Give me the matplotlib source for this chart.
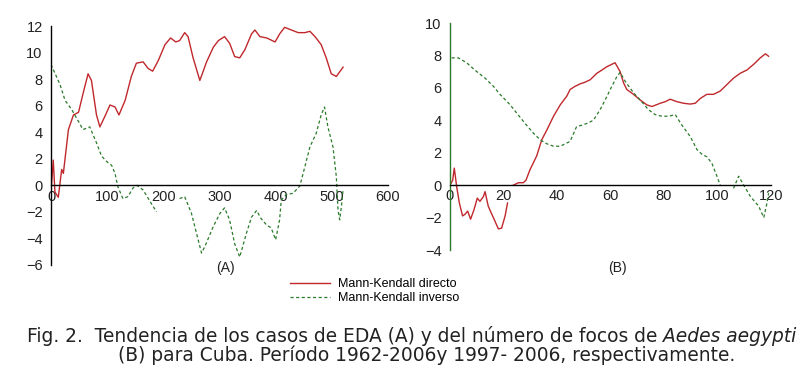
import matplotlib

matplotlib.use("Agg")
import matplotlib.pyplot as plt
import numpy as np

nan = np.nan

# ---- panel A: EDA cases (Mann-Kendall sequential statistic) ----
a_dir_x = [0, 4, 7, 13, 19, 22, 31, 40, 49, 57, 66, 72, 81, 87, 96, 105, 114, 121,
           132, 143, 152, 164, 173, 181, 191, 203, 213, 222, 229, 238, 244, 253, 265,
           277, 289, 298, 309, 318, 327, 336, 345, 357, 363, 372, 384, 399, 407, 416,
           428, 440, 452, 461, 470, 481, 490, 499, 508, 520]
a_dir_y = [-0.5, 1.9, -0.5, -0.9, 1.2, 0.9, 4.2, 5.3, 5.5, 6.9, 8.4, 7.9, 5.3, 4.4,
           5.2, 6.05, 5.9, 5.3, 6.4, 8.2, 9.2, 9.3, 8.8, 8.6, 9.4, 10.6, 11.1, 10.8,
           10.9, 11.5, 11.2, 9.6, 7.9, 9.3, 10.4, 10.9, 11.2, 10.7, 9.7, 9.6, 10.2,
           11.4, 11.7, 11.2, 11.1, 10.8, 11.4, 11.9, 11.7, 11.5, 11.5, 11.6, 11.2,
           10.6, 9.6, 8.4, 8.2, 8.9]

a_inv_x = [0, 16, 25, 37, 49, 57, 69, 81, 90, 99, 108, 114, 119, 128, 137, 146, 153,
           164, 182, 188, 208, 229, 238, 250, 259, 268, 274, 289, 301, 309, 318, 327,
           336, 348, 357, 366, 374, 384, 392, 400, 407, 410, 419, 431, 443, 452, 461,
           472, 481, 487, 493, 502, 508, 511, 514, 517, 520]
a_inv_y = [9.1, 7.6, 6.4, 5.7, 4.8, 4.2, 4.4, 3.2, 2.2, 1.8, 1.5, 0.9, -0.1, -1.0,
           -0.85, -0.2, 0.0, -0.35, -1.6, -2.0, nan, -1.0, -0.85, -2.1, -3.6, -5.1,
           -4.6, -3.1, -2.1, -1.7, -2.6, -4.4, -5.4, -3.6, -2.4, -1.9, -2.5, -3.0,
           -3.2, -4.1, -2.6, -1.1, -0.7, -0.6, -0.05, 1.4, 2.9, 3.9, 5.3, 5.9, 4.4,
           2.9, 0.65, -1.85, -2.6, -1.6, -0.35]

# ---- panel B: Aedes aegypti foci ----
b_dir_x = [0, 1, 1.6, 2.5, 3.5, 4.7, 5.6, 6.6, 7.7, 9.0, 10.2, 11.2, 12.5, 13.1, 14.3,
           16.2, 18.1, 19.3, 20.6, 21.5, 22.6, 23.7, 25.6, 27.4, 28.4, 29.9, 32.4,
           34.3, 36.2, 38.7, 41.2, 43.7, 44.9, 46.8, 48.7, 50.5, 52.4, 54.9, 56.8,
           58.6, 61.7, 63.6, 64.9, 66.1, 68.6, 71.1, 73.6, 75.5, 78.6, 80.5, 82.3,
           84.8, 87.3, 89.8, 91.7, 93.6, 96.0, 98.5, 101, 103.5, 106, 108.5, 111,
           113.5, 116, 117.9, 119.1]
b_dir_y = [0, 0.3, 1.05, -0.1, -1.1, -1.9, -1.8, -1.6, -2.1, -1.5, -0.8, -1.0, -0.7,
           -0.4, -1.3, -2.0, -2.7, -2.65, -1.9, -1.1, nan, 0.0, 0.15, 0.15, 0.3, 0.95,
           1.8, 2.8, 3.4, 4.25, 4.95, 5.5, 5.9, 6.1, 6.25, 6.35, 6.5, 6.9, 7.1, 7.3,
           7.55, 7.0, 6.3, 5.9, 5.6, 5.25, 4.95, 4.85, 5.05, 5.15, 5.3, 5.15, 5.05,
           5.0, 5.05, 5.35, 5.6, 5.6, 5.8, 6.2, 6.6, 6.9, 7.1, 7.45, 7.85, 8.1, 7.95]

b_inv_x = [0.6, 3.1, 6.2, 10, 13.1, 16.2, 18.7, 22.5, 24.9, 28.1, 31.2, 33.7, 36.2,
           38.7, 41.2, 43.7, 44.9, 47.3, 49.3, 51.1, 53.6, 56.1, 58, 59.9, 62.4, 63.6,
           65.5, 68.6, 71.1, 74.2, 76.7, 79.2, 81.7, 84.2, 86.7, 89.8, 92.3, 94.2, 96,
           97.9, 99.8, 101, 103.5, 106, 107.9, 109.8, 112.3, 115.4, 117.3, 118.5, 119.1]
b_inv_y = [7.85, 7.85, 7.55, 7.0, 6.6, 6.1, 5.6, 4.95, 4.45, 3.8, 3.2, 2.8, 2.55, 2.4,
           2.4, 2.6, 2.7, 3.6, 3.7, 3.8, 4.0, 4.65, 5.25, 5.9, 6.7, 6.95, 6.4, 5.7,
           5.25, 4.65, 4.35, 4.25, 4.25, 4.35, 3.7, 3.0, 2.2, 1.9, 1.75, 1.35, 0.55,
           0.0, nan, -0.2, 0.55, 0.0, -0.7, -1.3, -2.0, -1.1, -0.5]

a_xticks = [0, 100, 200, 300, 400, 500, 600]
a_yticks = [-6, -4, -2, 0, 2, 4, 6, 8, 10, 12]
b_xticks = [0, 20, 40, 60, 80, 100, 120]
b_yticks = [-4, -2, 0, 2, 4, 6, 8, 10]

RED = "#c0282c"
GREEN = "#2a7a2a"

plt.rcParams["font.family"] = ["Liberation Sans", "DejaVu Sans"]

fig = plt.figure(figsize=(8.0, 3.68), dpi=100)
W, H = 800, 368


def box(l, r, t, b):
    return [l / W, 1 - b / H, (r - l) / W, (b - t) / H]


def style(ax, xlim, ylim, xt, yt, spine_color):
    ax.set_xlim(*xlim)
    ax.set_ylim(*ylim)
    ax.set_xticks(xt)
    ax.set_yticks(yt)
    for s in ("top", "right"):
        ax.spines[s].set_visible(False)
    ax.spines["bottom"].set_position(("data", 0))
    ax.spines["bottom"].set_linewidth(1.0)
    ax.spines["left"].set_color(spine_color)
    ax.spines["left"].set_linewidth(1.0)
    ax.tick_params(axis="x", length=0, pad=3, labelsize=10.5, colors="#222222")
    ax.tick_params(axis="y", length=0, pad=6, labelsize=10.5, colors="#222222")
    ax.patch.set_alpha(0)


axA = fig.add_axes(box(51, 388, 26, 265))
axA.plot(a_dir_x, a_dir_y, color=RED, lw=1.0)
axA.plot(a_inv_x, a_inv_y, color=GREEN, lw=0.9, dashes=(2.5, 2))
style(axA, (0, 600), (-6, 12), a_xticks, a_yticks, "black")

axB = fig.add_axes(box(450, 771, 23, 250))
axB.plot(b_dir_x, b_dir_y, color=RED, lw=1.0, label="Mann-Kendall directo")
axB.plot(b_inv_x, b_inv_y, color=GREEN, lw=0.9, dashes=(2.5, 2),
         label="Mann-Kendall inverso")
style(axB, (0, 120), (-4, 10), b_xticks, b_yticks, GREEN)

fig.text(225 / W, 1 - 268 / H, "(A)", ha="center", va="center", fontsize=10,
         color="#222222")
fig.text(617 / W, 1 - 268 / H, "(B)", ha="center", va="center", fontsize=10,
         color="#222222")

h, l = axB.get_legend_handles_labels()
fig.legend(h, l, loc="upper left", bbox_to_anchor=(290 / W, 1 - 278 / H),
           frameon=False, fontsize=9, handlelength=3.2, handletextpad=0.6,
           labelspacing=0.15, borderpad=0, borderaxespad=0)

# ---- caption, with the species name in italics ----
renderer = fig.canvas.get_renderer()
cap_font = dict(family="DejaVu Sans", fontsize=13.4, color="#222222")


def caption_line(parts, center_px, y_px):
    texts = [fig.text(0, 1 - y_px / H, s, va="center", style=st, **cap_font)
             for s, st in parts]
    widths = [t.get_window_extent(renderer).width for t in texts]
    x = center_px - sum(widths) / 2
    for t, w in zip(texts, widths):
        t.set_x(x / W)
        x += w


caption_line([("Fig. 2.  Tendencia de los casos de EDA (A) y del número de focos de ", "normal"),
              ("Aedes aegypti", "italic")], 412, 336)
caption_line([("(B) para Cuba. Período 1962-2006y 1997- 2006, respectivamente.", "normal")],
             427, 355)

fig.savefig("out.png", dpi=100)
